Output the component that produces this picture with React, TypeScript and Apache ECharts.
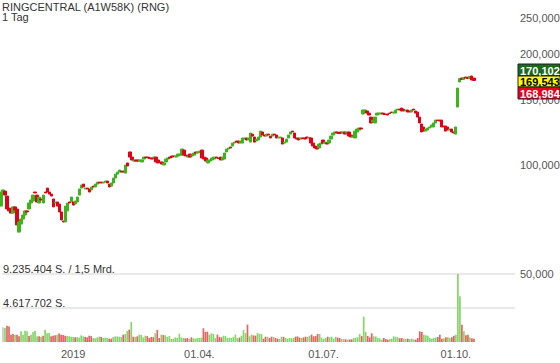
import React, { useEffect, useRef } from 'react';
import * as echarts from 'echarts';

const TITLE = 'RINGCENTRAL (A1W58K) (RNG)';
const PERIOD = '1 Tag';
const FIRST_DAY = '2018-11-07';
const DAY_COUNT = 256;
const HOLIDAYS = ['2018-12-24', '2018-12-25', '2018-12-26', '2018-12-31', '2019-01-01', '2019-04-19', '2019-04-22', '2019-05-01', '2019-12-24', '2019-12-25'];
const X_LABEL_DATES = ['2019-01-02', '2019-04-01', '2019-07-01', '2019-10-01'];
const X_LABEL_TEXTS = ['2019', '01.04.', '01.07.', '01.10.'];
const PRICE_TICKS = [100, 150, 200, 250];
const QUOTE_VALUES = [170.102, 169.543, 168.984];
const VOLUME_MAX = 9.235404; // million shares
const VOLUME_TICK_TEXTS = ['4.617.702 S.', '9.235.404 S. / 1,5 Mrd.'];
const VOLUME_RIGHT_LABEL = '50,000';

// [open, close, low, high] in EUR
const ohlc: number[][] = [
  [77.4, 84.5, 76.8, 86.1], [84.0, 85.6, 83.5, 86.6], [85.0, 82.9, 82.4, 85.8], [82.4, 76.0, 75.5, 83.0],
  [76.5, 75.1, 74.3, 77.4], [75.5, 74.1, 73.4, 76.3], [74.1, 77.0, 73.7, 77.9], [77.0, 75.5, 74.8, 78.8],
  [76.0, 68.8, 67.9, 76.6], [65.8, 70.1, 63.8, 70.6], [69.2, 71.4, 68.6, 72.1], [71.4, 73.2, 70.9, 73.9],
  [73.2, 75.1, 72.6, 75.8], [75.1, 74.6, 74.0, 75.9], [76.0, 78.9, 75.4, 79.5], [78.9, 80.4, 78.3, 81.0],
  [79.9, 82.9, 79.3, 83.5], [84.5, 84.0, 83.2, 85.6], [82.9, 79.4, 78.8, 83.5], [78.9, 81.9, 78.2, 82.4],
  [80.9, 80.4, 79.6, 81.6], [78.9, 82.9, 78.3, 83.4], [84.5, 84.0, 83.4, 85.1], [86.6, 84.5, 84.0, 88.3],
  [84.5, 83.4, 82.8, 85.0], [83.4, 82.4, 81.8, 84.0], [80.9, 77.0, 76.4, 81.4], [78.9, 79.4, 78.0, 80.2],
  [79.4, 77.4, 76.9, 80.0], [78.4, 74.6, 74.0, 79.0], [74.6, 71.0, 70.3, 75.1], [70.5, 70.1, 69.4, 71.1],
  [70.1, 77.4, 69.6, 78.0], [75.1, 78.9, 74.5, 79.5], [79.4, 78.9, 78.1, 80.1], [79.4, 81.9, 78.8, 82.6],
  [79.4, 77.9, 77.3, 80.0], [78.4, 79.9, 77.8, 80.5], [79.4, 81.9, 78.9, 82.5], [82.9, 86.1, 82.3, 86.7],
  [86.6, 88.3, 86.0, 88.9], [88.8, 87.2, 86.6, 89.9], [86.1, 86.6, 85.4, 87.4], [86.6, 86.1, 85.5, 87.3],
  [86.1, 84.5, 84.0, 86.8], [85.6, 87.2, 85.0, 87.8], [87.7, 87.2, 86.5, 88.4], [87.2, 88.8, 86.6, 89.4],
  [88.8, 89.9, 88.2, 90.6], [89.9, 89.4, 88.6, 91.6], [89.9, 89.4, 88.8, 90.5], [89.4, 89.9, 88.7, 90.6],
  [89.9, 90.5, 89.3, 91.1], [90.5, 89.4, 88.8, 91.0], [88.8, 87.2, 86.6, 89.3], [87.7, 89.4, 87.2, 89.9],
  [89.4, 92.2, 88.9, 92.8], [92.2, 94.5, 91.7, 95.1], [94.5, 95.7, 94.0, 96.5], [95.7, 96.9, 95.1, 97.5],
  [96.3, 95.7, 95.0, 97.3], [96.3, 95.7, 94.8, 96.9], [95.1, 100.0, 94.6, 100.6], [101.3, 99.4, 98.8, 101.9],
  [108.5, 105.1, 104.5, 109.1], [105.1, 103.2, 102.5, 105.8], [102.5, 103.2, 101.2, 103.9], [103.2, 102.5, 101.9, 103.9],
  [103.2, 102.5, 101.6, 104.2], [102.5, 103.2, 101.9, 104.0], [101.9, 103.2, 101.3, 103.8], [103.8, 105.1, 103.2, 105.8],
  [105.1, 104.8, 104.2, 105.9], [105.1, 104.5, 103.9, 106.0], [104.5, 104.1, 103.5, 105.2], [104.5, 103.8, 103.2, 105.1],
  [104.5, 105.1, 103.9, 105.8], [105.1, 101.9, 101.2, 105.7], [103.2, 101.3, 98.8, 103.8], [101.9, 101.6, 101.0, 102.6],
  [101.9, 100.6, 100.0, 102.5], [100.0, 101.3, 98.1, 101.9], [101.9, 103.8, 101.3, 104.4], [103.8, 104.5, 103.2, 105.1],
  [105.1, 104.5, 103.8, 105.8], [105.8, 105.1, 104.3, 106.5], [105.8, 105.5, 102.5, 106.4], [105.1, 105.8, 104.4, 106.5],
  [105.8, 107.1, 105.2, 107.8], [106.4, 107.1, 105.7, 107.8], [106.4, 110.5, 105.8, 111.2], [109.8, 106.4, 105.8, 110.4],
  [106.4, 105.8, 103.8, 107.1], [105.1, 105.8, 104.5, 106.4], [107.1, 105.1, 104.5, 107.8], [105.8, 106.4, 105.2, 107.1],
  [106.4, 107.8, 105.8, 108.5], [108.5, 107.8, 107.1, 109.4], [107.8, 108.5, 107.1, 109.1], [108.5, 109.1, 107.8, 110.0],
  [109.8, 104.5, 103.8, 110.5], [105.1, 103.8, 103.2, 105.8], [104.5, 102.5, 101.3, 105.1], [101.3, 103.2, 100.6, 103.8],
  [102.5, 103.2, 101.6, 103.9], [103.2, 104.5, 102.5, 105.1], [103.8, 105.1, 103.2, 105.8], [105.1, 104.5, 103.9, 105.8],
  [104.5, 104.1, 103.2, 105.1], [105.1, 103.2, 101.3, 105.8], [103.2, 105.1, 102.5, 105.8], [103.8, 107.8, 103.2, 108.5],
  [108.5, 110.5, 107.8, 111.2], [110.5, 111.2, 109.8, 111.9], [111.9, 111.2, 110.5, 112.6], [112.6, 114.7, 112.0, 115.4],
  [114.7, 115.4, 114.0, 116.2], [116.2, 115.4, 114.7, 116.9], [116.2, 114.7, 114.0, 116.9], [114.7, 116.2, 114.0, 116.9],
  [114.7, 118.4, 113.3, 119.1], [117.6, 118.4, 116.9, 119.1], [118.4, 116.9, 113.3, 119.1], [116.9, 118.4, 116.2, 119.1],
  [115.4, 122.1, 114.7, 122.9], [121.3, 119.8, 119.1, 122.9], [119.1, 115.4, 114.7, 119.8], [116.2, 117.6, 115.4, 118.4],
  [116.9, 119.1, 116.2, 119.8], [119.1, 123.6, 118.4, 124.4], [122.9, 120.6, 119.8, 124.4], [120.6, 119.8, 119.1, 121.3],
  [119.8, 121.3, 119.1, 122.1], [121.3, 120.6, 119.8, 122.1], [119.8, 118.4, 115.4, 120.6], [119.8, 121.3, 119.1, 122.1],
  [121.3, 120.6, 119.8, 122.1], [120.6, 118.4, 117.6, 121.3], [118.4, 119.1, 117.6, 119.8], [118.4, 119.1, 117.6, 119.8],
  [118.4, 114.0, 112.6, 119.1], [114.7, 115.4, 114.0, 116.2], [115.4, 117.6, 114.0, 118.4], [118.4, 120.6, 117.6, 121.3],
  [121.3, 122.9, 120.6, 123.6], [123.6, 122.9, 122.1, 125.9], [122.1, 118.4, 117.6, 122.9], [118.4, 117.6, 115.4, 119.1],
  [118.4, 116.9, 115.4, 119.1], [117.6, 118.4, 116.2, 119.1], [118.4, 118.0, 117.2, 119.1], [118.4, 117.6, 116.9, 120.6],
  [119.1, 118.4, 117.6, 120.6], [118.4, 118.7, 117.6, 119.8], [118.4, 114.7, 114.0, 119.1], [114.7, 112.6, 111.9, 115.4],
  [112.6, 111.2, 110.5, 113.3], [111.9, 110.5, 108.5, 112.6], [111.2, 114.0, 110.5, 114.7], [114.0, 114.7, 113.3, 115.4],
  [116.9, 114.7, 114.0, 117.6], [114.7, 115.4, 112.6, 116.2], [114.7, 114.0, 112.6, 115.4], [114.7, 116.9, 114.0, 117.6],
  [117.6, 119.8, 116.9, 120.6], [120.6, 122.1, 119.8, 122.9], [122.1, 122.9, 121.3, 123.6], [122.9, 122.1, 121.3, 125.2],
  [122.1, 121.7, 120.9, 122.9], [122.9, 122.1, 121.3, 123.6], [122.1, 122.9, 121.3, 123.6], [122.9, 121.3, 120.6, 123.6],
  [122.1, 122.9, 121.3, 123.6], [122.9, 119.8, 119.1, 123.6], [120.6, 119.1, 118.4, 121.3], [119.1, 119.8, 118.4, 120.6],
  [118.4, 123.6, 117.6, 124.4], [122.9, 125.2, 122.1, 126.0], [124.4, 126.0, 123.6, 126.8], [126.0, 125.2, 123.6, 126.8],
  [137.5, 141.0, 136.6, 143.6], [140.1, 141.0, 139.2, 143.6], [140.1, 138.3, 137.5, 141.8], [138.3, 136.6, 135.8, 139.2],
  [134.9, 130.0, 129.2, 135.8], [130.8, 132.4, 126.8, 133.3], [130.0, 134.9, 129.2, 135.8], [136.6, 138.3, 135.8, 139.2],
  [137.5, 138.3, 136.6, 139.2], [137.5, 138.3, 136.6, 139.2], [138.3, 137.5, 135.8, 139.2], [137.5, 137.0, 135.8, 138.3],
  [137.5, 136.6, 135.8, 138.3], [138.3, 137.9, 136.6, 139.2], [139.2, 138.8, 137.5, 140.1], [138.3, 139.2, 137.5, 140.1],
  [138.3, 141.0, 137.5, 141.8], [141.0, 141.8, 140.1, 142.7], [141.8, 141.0, 140.1, 142.7], [142.7, 140.1, 139.2, 143.6],
  [141.8, 140.1, 139.2, 142.7], [140.1, 141.0, 139.2, 141.8], [141.0, 139.2, 138.3, 141.8], [140.1, 139.2, 137.5, 141.0],
  [139.2, 141.0, 138.3, 141.8], [141.8, 141.0, 140.1, 142.7], [140.1, 138.3, 137.5, 141.0], [139.2, 134.9, 134.1, 140.1],
  [134.9, 130.0, 129.2, 135.8], [129.2, 122.9, 122.1, 130.0], [126.8, 123.6, 121.3, 127.6], [123.6, 125.2, 122.9, 126.0],
  [124.4, 126.0, 123.6, 130.0], [126.0, 126.8, 122.1, 127.6], [126.8, 128.4, 126.0, 129.2], [126.8, 130.0, 126.0, 130.8],
  [130.0, 132.4, 129.2, 133.3], [132.4, 132.0, 131.6, 133.3], [132.4, 131.6, 130.8, 133.3], [132.4, 126.8, 126.0, 133.3],
  [127.6, 126.8, 126.0, 128.4], [127.6, 123.6, 122.1, 128.4], [126.8, 124.4, 119.8, 127.6], [124.4, 125.2, 122.9, 126.0],
  [125.2, 122.9, 120.6, 126.0], [122.9, 122.1, 120.6, 123.6], [121.3, 126.8, 120.6, 127.6], [143.6, 161.7, 142.7, 162.7],
  [167.9, 171.5, 166.8, 176.4], [172.1, 170.5, 169.5, 175.3], [170.5, 172.6, 169.9, 175.3], [173.2, 172.1, 171.0, 175.3],
  [173.0, 171.5, 170.5, 175.3], [171.5, 173.8, 170.9, 175.3], [174.3, 170.0, 168.9, 175.3], [172.1, 169.5, 167.9, 174.3],
];

// million shares per day
const volumeMio: number[] = [
  2.0, 1.9, 2.2, 2.1, 1.0, 1.1, 1.0, 1.0, 0.77, 1.45, 1.0, 1.54, 1.45, 0.8, 1.0, 1.36,
  1.54, 0.77, 0.77, 0.7, 0.86, 1.68, 1.2, 1.22, 0.77, 0.86, 0.9, 1.0, 1.14, 1.0, 0.95, 0.86,
  0.8, 0.77, 0.7, 0.68, 0.65, 0.63, 0.6, 0.9, 0.77, 0.7, 0.63, 0.86, 0.8, 0.54, 0.5, 0.63,
  0.72, 0.7, 0.54, 0.59, 0.55, 0.45, 0.45, 0.68, 0.77, 0.75, 0.72, 0.7, 1.0, 1.09, 1.5, 1.68,
  2.72, 0.72, 0.7, 0.77, 1.0, 0.95, 0.63, 0.86, 0.8, 0.54, 0.68, 0.65, 1.2, 1.63, 0.54, 1.0,
  0.95, 0.9, 0.7, 0.82, 0.41, 0.45, 0.63, 0.55, 1.13, 0.63, 0.54, 0.5, 0.54, 0.41, 0.63, 0.5,
  0.45, 0.54, 0.54, 0.6, 1.86, 1.36, 1.4, 1.0, 1.18, 1.1, 0.54, 1.0, 0.7, 0.63, 0.86, 0.8,
  0.54, 0.6, 0.54, 0.7, 1.0, 0.54, 0.6, 0.86, 1.63, 1.2, 2.35, 0.77, 1.0, 0.9, 0.86, 1.22,
  1.1, 1.09, 0.45, 0.72, 0.7, 0.54, 0.72, 0.7, 0.54, 0.45, 0.41, 0.72, 0.7, 0.54, 0.45, 0.54,
  0.5, 0.54, 0.72, 0.77, 0.6, 0.54, 0.63, 0.72, 0.7, 0.86, 1.0, 0.77, 0.8, 1.09, 1.09, 0.6,
  0.41, 0.54, 0.72, 0.65, 0.72, 0.45, 0.72, 0.6, 0.54, 0.41, 0.4, 0.36, 0.32, 0.35, 0.36, 0.54,
  0.6, 0.63, 1.09, 0.8, 3.44, 1.36, 0.82, 0.63, 1.18, 0.77, 0.75, 0.54, 0.5, 0.32, 0.54, 0.4,
  0.32, 0.4, 0.45, 0.77, 0.7, 0.63, 0.5, 0.54, 0.45, 0.41, 0.45, 0.4, 0.45, 0.35, 0.32, 0.54,
  1.45, 1.36, 1.0, 0.9, 0.86, 0.54, 0.45, 0.55, 0.63, 0.68, 1.0, 0.45, 0.5, 0.63, 0.63, 0.55,
  0.63, 0.86, 1.0, 9.235404, 6.2, 2.35, 1.45, 0.9, 1.0, 0.6, 0.5, 0.45,
];

const UP = '#3cb41c';
const DOWN = '#e0001a';
const VOL_UP = '#86d66a';
const VOL_DOWN = '#e56262';
const VOL_NEUTRAL = '#c8c8c8';
const FONT = '"Liberation Sans", Arial, sans-serif';

function buildTradingDays(first: string, count: number, holidays: string[]): string[] {
  const out: string[] = [];
  const d = new Date(first + 'T00:00:00Z');
  while (out.length < count) {
    const dow = d.getUTCDay();
    const s = d.toISOString().slice(0, 10);
    if (dow !== 0 && dow !== 6 && holidays.indexOf(s) < 0) out.push(s);
    d.setUTCDate(d.getUTCDate() + 1);
  }
  return out;
}

const fmtPrice = (v: number) => v.toFixed(3).replace('.', ',');

export default function App() {
  const ref = useRef<HTMLDivElement>(null);
  useEffect(() => {
    if (!ref.current) return;
    const chart = echarts.init(ref.current, undefined, { renderer: 'svg' });
    const days = buildTradingDays(FIRST_DAY, DAY_COUNT, HOLIDAYS);
    const wickData = ohlc.map(([, , l, h]) => [l, h, l, h]);
    const bodyData = ohlc.map(([o, c]) => [o, c, Math.min(o, c), Math.max(o, c)]);
    const volData = volumeMio.map((v, i) => {
      let color = VOL_NEUTRAL;
      if (i > 0 && ohlc[i] && ohlc[i - 1]) color = ohlc[i][1] >= ohlc[i - 1][1] ? VOL_UP : VOL_DOWN;
      return { value: v, itemStyle: { color } };
    });
    const quoteColors = [
      { fill: '#1b6a1b', text: '#ffffff', y: 64, h: 12 },
      { fill: '#ffff00', text: '#000000', y: 76, h: 11 },
      { fill: '#e6001e', text: '#ffffff', y: 87, h: 12 },
    ];
    const quoteGraphics: any[] = [];
    QUOTE_VALUES.forEach((v, i) => {
      const q = quoteColors[i];
      quoteGraphics.push({
        type: 'rect', z: 100, shape: { x: 518, y: q.y, width: 42, height: q.h },
        style: { fill: q.fill, stroke: '#222', lineWidth: 1 },
      });
      quoteGraphics.push({
        type: 'text', z: 101, x: 520, y: q.y + q.h / 2 + 0.5,
        style: { text: fmtPrice(v), fill: q.text, fontSize: 11, fontWeight: 'bold', fontFamily: FONT, align: 'left', verticalAlign: 'middle', lineHeight: 11 },
      });
    });

    chart.setOption({
      animation: false,
      textStyle: { fontFamily: FONT },
      grid: [
        { left: 0, right: 45, top: 0, bottom: 105 },
        { left: 0, right: 45, top: 274, bottom: 21 },
      ],
      xAxis: [
        {
          type: 'category', gridIndex: 0, data: days, boundaryGap: true,
          axisLine: { show: false }, axisTick: { show: false }, axisLabel: { show: false }, splitLine: { show: false },
        },
        {
          type: 'category', gridIndex: 1, data: days, boundaryGap: true,
          axisLine: { show: false }, axisTick: { show: false }, splitLine: { show: false },
          axisLabel: {
            interval: (_i: number, v: string) => X_LABEL_DATES.indexOf(v) >= 0,
            formatter: (v: string) => { const k = X_LABEL_DATES.indexOf(v); return k >= 0 ? X_LABEL_TEXTS[k] : ''; },
            color: '#555', fontSize: 11, margin: 6, fontFamily: FONT,
          },
        },
      ],
      yAxis: [
        {
          type: 'log', logBase: 10, gridIndex: 0, min: 55.98, max: 280.1, position: 'right',
          axisLine: { show: false }, axisTick: { show: false }, axisLabel: { show: false }, splitLine: { show: false },
        },
        {
          type: 'value', gridIndex: 1, min: 0, max: VOLUME_MAX, interval: VOLUME_MAX / 2, position: 'left',
          axisLine: { show: false }, axisTick: { show: false },
          splitLine: { show: true, showMinLine: false, lineStyle: { color: '#e2e2e2', width: 1.5 } },
          axisLabel: {
            inside: true, margin: 1, color: '#333', fontSize: 11, fontFamily: FONT, verticalAlign: 'bottom',
            formatter: (v: number) => {
              if (Math.abs(v - VOLUME_MAX) < 1e-6) return VOLUME_TICK_TEXTS[1];
              if (Math.abs(v - VOLUME_MAX / 2) < 1e-6) return VOLUME_TICK_TEXTS[0];
              return '';
            },
          },
        },
        {
          type: 'value', gridIndex: 1, min: 0, max: VOLUME_MAX, interval: VOLUME_MAX, position: 'right',
          axisLine: { show: false }, axisTick: { show: false }, splitLine: { show: false },
          axisLabel: {
            margin: 5, color: '#555', fontSize: 11, fontFamily: FONT,
            formatter: (v: number) => (v > 0 ? VOLUME_RIGHT_LABEL : ''),
          },
        },
      ],
      series: [
        {
          type: 'candlestick', xAxisIndex: 0, yAxisIndex: 0, data: wickData, barWidth: 1,
          itemStyle: { color: '#000', color0: '#000', borderColor: '#000', borderColor0: '#000', borderWidth: 0 },
          markLine: {
            silent: true, symbol: ['none', 'none'], animation: false,
            lineStyle: { color: 'rgba(0,0,0,0)', width: 0.01 },
            label: {
              show: true, position: 'end', distance: 5, color: '#555', fontSize: 11, fontFamily: FONT,
              formatter: (p: any) => fmtPrice(Number(p.value)),
            },
            data: PRICE_TICKS.map((t) => ({ yAxis: t })),
          },
        },
        {
          type: 'candlestick', xAxisIndex: 0, yAxisIndex: 0, data: bodyData, barWidth: 3,
          itemStyle: { color: UP, color0: DOWN, borderColor: UP, borderColor0: DOWN, borderColorDoji: DOWN, borderWidth: 1 },
        },
        {
          type: 'bar', xAxisIndex: 1, yAxisIndex: 1, data: volData, barCategoryGap: '15%',
        },
      ],
      graphic: [
        { type: 'text', x: 2, y: 6.5, style: { text: TITLE, fill: '#333', fontSize: 11, fontFamily: FONT, verticalAlign: 'middle', lineHeight: 10 } },
        { type: 'text', x: 2, y: 17, style: { text: PERIOD, fill: '#333', fontSize: 11, fontFamily: FONT, verticalAlign: 'middle', lineHeight: 10 } },
        ...quoteGraphics,
      ],
    });
    return () => chart.dispose();
  }, []);
  return <div ref={ref} style={{ width: 560, height: 363, position: 'absolute', left: 0, top: 0 }} />;
}
